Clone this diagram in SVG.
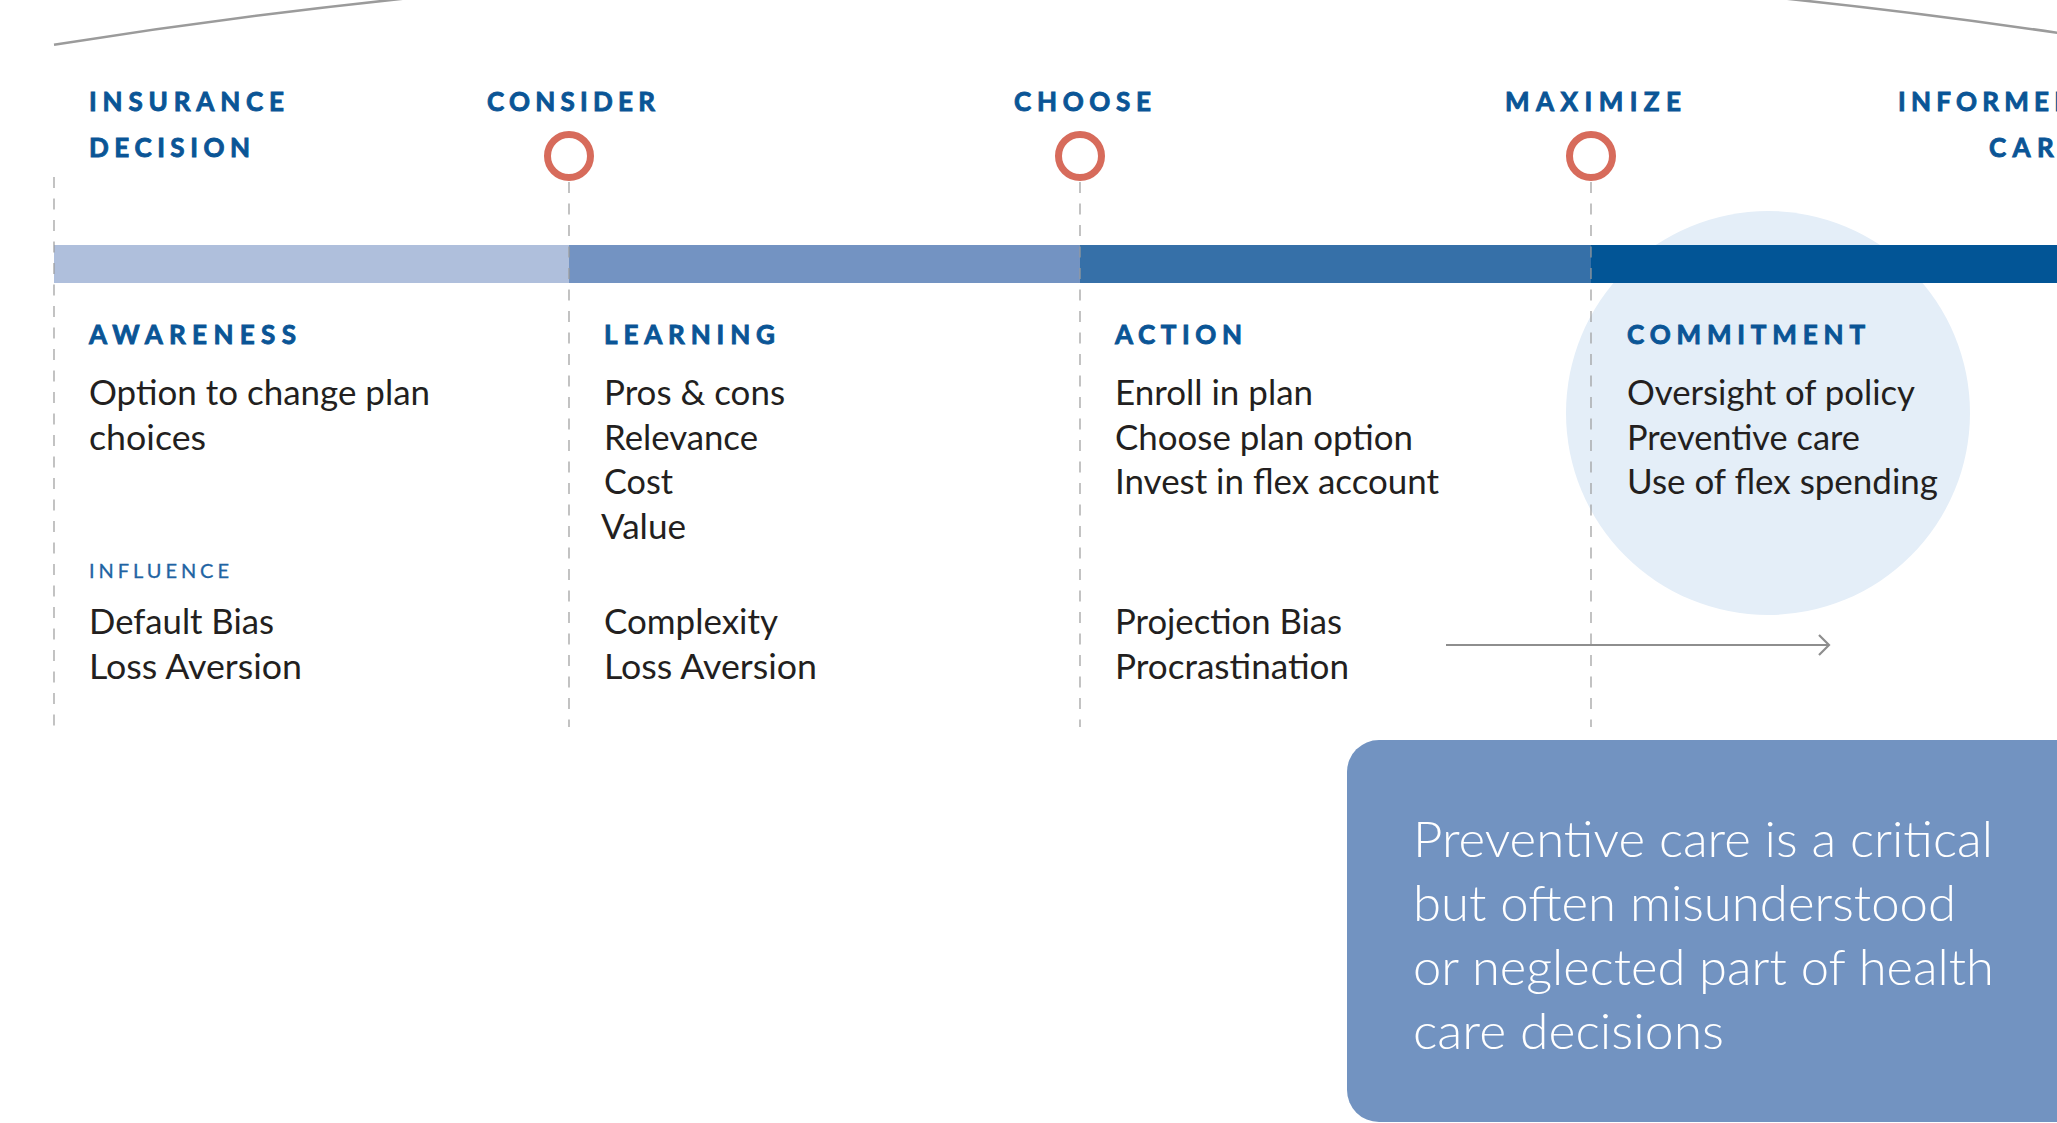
<svg xmlns="http://www.w3.org/2000/svg" width="2057" height="1123" viewBox="0 0 2057 1123">
  <defs>
    <style>
      .hd { font-family: Lato, "Open Sans", "Liberation Sans", sans-serif; font-weight: 700; font-size: 26px; fill: #0a5596; stroke: #0a5596; stroke-width: 0.9; }
      .sub { font-family: Lato, "Open Sans", "Liberation Sans", sans-serif; font-weight: 400; font-size: 20px; fill: #1f64a3; stroke: #1f64a3; stroke-width: 0.3; }
      .body { font-family: Lato, "Open Sans", "Liberation Sans", sans-serif; font-weight: 400; font-size: 35px; fill: #231f20; }
      .note { font-family: Lato, "Open Sans", "Liberation Sans", sans-serif; font-weight: 300; font-size: 50px; fill: #ffffff; }
      .guide { stroke: #9b9b9b; stroke-width: 1.2; stroke-dasharray: 11 10.5; fill: none; }
      .ring { fill: none; stroke: #d76b5b; stroke-width: 7; }
      .flow { stroke: #8e8e8e; stroke-width: 2.2; fill: none; }
    </style>
    <marker id="chevron" viewBox="0 0 14 22" refX="12" refY="11" markerWidth="14" markerHeight="22" markerUnits="userSpaceOnUse" orient="auto">
      <path d="M2 1 L12 11 L2 21" fill="none" stroke="#8e8e8e" stroke-width="2.2"/>
    </marker>
  </defs>

  <rect width="2057" height="1123" fill="#ffffff"/>

  <!-- sweeping arc across the top -->
  <path d="M54 44.8 A6627 6627 0 0 1 2100 39.2" fill="none" stroke="#9b9b9b" stroke-width="2.5"/>

  <!-- highlight disc behind the commitment stage -->
  <circle cx="1768" cy="413" r="202" fill="#e4eef8"/>

  <!-- progress bar -->
  <g id="progress-bar">
    <rect x="54" y="245" width="515" height="38" fill="#afbfdc"/>
    <rect x="569" y="245" width="511" height="38" fill="#7393c2"/>
    <rect x="1080" y="245" width="511" height="38" fill="#3670a8"/>
    <rect x="1591" y="245" width="466" height="38" fill="#025596"/>
  </g>

  <!-- dashed stage dividers -->
  <g id="dividers">
    <line class="guide" x1="54" y1="177" x2="54" y2="727"/>
    <line class="guide" x1="569" y1="182" x2="569" y2="727"/>
    <line class="guide" x1="1080" y1="182" x2="1080" y2="727"/>
    <line class="guide" x1="1591" y1="182" x2="1591" y2="727"/>
  </g>

  <!-- milestones -->
  <g id="milestone-insurance-decision">
    <text class="hd" x="89" y="111" textLength="195" lengthAdjust="spacing">INSURANCE</text>
    <text class="hd" x="89" y="157" textLength="161" lengthAdjust="spacing">DECISION</text>
  </g>
  <g id="milestone-consider">
    <text class="hd" x="487" y="111" textLength="168" lengthAdjust="spacing">CONSIDER</text>
    <circle class="ring" cx="569" cy="156" r="21.5"/>
  </g>
  <g id="milestone-choose">
    <text class="hd" x="1014" y="111" textLength="137" lengthAdjust="spacing">CHOOSE</text>
    <circle class="ring" cx="1080" cy="156" r="21.5"/>
  </g>
  <g id="milestone-maximize">
    <text class="hd" x="1505" y="111" textLength="176" lengthAdjust="spacing">MAXIMIZE</text>
    <circle class="ring" cx="1591" cy="156" r="21.5"/>
  </g>
  <g id="milestone-informed-care">
    <text class="hd" x="1898" y="111" textLength="176" lengthAdjust="spacing">INFORMED</text>
    <text class="hd" x="1989" y="157" textLength="86" lengthAdjust="spacing">CARE</text>
  </g>

  <!-- stages -->
  <g id="stage-awareness">
    <text class="hd" x="89" y="344" textLength="207" lengthAdjust="spacing">AWARENESS</text>
    <text class="body" x="89" y="405" textLength="341" lengthAdjust="spacingAndGlyphs">Option to change plan</text>
    <text class="body" x="89" y="450" textLength="117" lengthAdjust="spacingAndGlyphs">choices</text>
    <text class="sub" x="89" y="578" textLength="140" lengthAdjust="spacing">INFLUENCE</text>
    <text class="body" x="89" y="634" textLength="185" lengthAdjust="spacingAndGlyphs">Default Bias</text>
    <text class="body" x="89" y="679" textLength="213" lengthAdjust="spacingAndGlyphs">Loss Aversion</text>
  </g>
  <g id="stage-learning">
    <text class="hd" x="604" y="344" textLength="171" lengthAdjust="spacing">LEARNING</text>
    <text class="body" x="604" y="405" textLength="181" lengthAdjust="spacingAndGlyphs">Pros &amp; cons</text>
    <text class="body" x="604" y="450" textLength="154" lengthAdjust="spacingAndGlyphs">Relevance</text>
    <text class="body" x="604" y="494" textLength="69" lengthAdjust="spacingAndGlyphs">Cost</text>
    <text class="body" x="601" y="539" textLength="85" lengthAdjust="spacingAndGlyphs">Value</text>
    <text class="body" x="604" y="634" textLength="174" lengthAdjust="spacingAndGlyphs">Complexity</text>
    <text class="body" x="604" y="679" textLength="213" lengthAdjust="spacingAndGlyphs">Loss Aversion</text>
  </g>
  <g id="stage-action">
    <text class="hd" x="1115" y="344" textLength="127" lengthAdjust="spacing">ACTION</text>
    <text class="body" x="1115" y="405" textLength="198" lengthAdjust="spacingAndGlyphs">Enroll in plan</text>
    <text class="body" x="1115" y="450" textLength="298" lengthAdjust="spacingAndGlyphs">Choose plan option</text>
    <text class="body" x="1115" y="494" textLength="324" lengthAdjust="spacingAndGlyphs">Invest in flex account</text>
    <text class="body" x="1115" y="634" textLength="227" lengthAdjust="spacingAndGlyphs">Projection Bias</text>
    <text class="body" x="1115" y="679" textLength="234" lengthAdjust="spacingAndGlyphs">Procrastination</text>
  </g>
  <g id="stage-commitment">
    <text class="hd" x="1627" y="344" textLength="238" lengthAdjust="spacing">COMMITMENT</text>
    <text class="body" x="1627" y="405" textLength="288" lengthAdjust="spacingAndGlyphs">Oversight of policy</text>
    <text class="body" x="1627" y="450" textLength="233" lengthAdjust="spacingAndGlyphs">Preventive care</text>
    <text class="body" x="1627" y="494" textLength="311" lengthAdjust="spacingAndGlyphs">Use of flex spending</text>
  </g>

  <!-- connectors -->
  <g id="connectors">
    <line class="flow" x1="1446" y1="645" x2="1829" y2="645" marker-end="url(#chevron)"/>
  </g>

  <!-- callout box -->
  <g id="callout">
    <rect x="1347" y="740" width="760" height="382" rx="32" ry="32" fill="#7293c1"/>
    <text class="note" x="1413" y="857" textLength="580" lengthAdjust="spacingAndGlyphs">Preventive care is a critical</text>
    <text class="note" x="1413" y="921" textLength="543" lengthAdjust="spacingAndGlyphs">but often misunderstood</text>
    <text class="note" x="1413" y="985" textLength="581" lengthAdjust="spacingAndGlyphs">or neglected part of health</text>
    <text class="note" x="1413" y="1049" textLength="311" lengthAdjust="spacingAndGlyphs">care decisions</text>
  </g>
</svg>
